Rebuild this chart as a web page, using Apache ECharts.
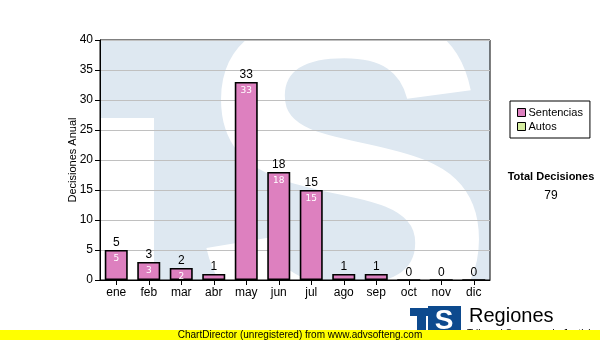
<!DOCTYPE html>
<html>
<head>
<meta charset="utf-8">
<script src="https://cdn.jsdelivr.net/npm/echarts@6/dist/echarts.min.js"></script>
<style>html,body{margin:0;padding:0;background:#fff}#c{width:600px;height:340px}</style>
</head>
<body>
<div id="c"></div>
<script>
var categories = ['ene','feb','mar','abr','may','jun','jul','ago','sep','oct','nov','dic'];
var sentencias = [5,3,2,1,33,18,15,1,1,0,0,0];
var autos = [null,null,null,null,null,null,null,null,null,null,null,null];
var yTicks = {min:0, max:40, interval:5};
var totalLabel = 'Total Decisiones';
var totalValue = '79';

var FONT = '"Liberation Sans", Arial, sans-serif';
var chart = echarts.init(document.getElementById('c'), null, {renderer:'canvas'});
var barW = 23;
chart.setOption({
  animation:false,
  backgroundColor:'#fff',
  textStyle:{fontFamily:FONT},
  grid:{left:100, right:110, top:40, bottom:60, show:true, borderColor:'#000', borderWidth:1, backgroundColor:'transparent', z:6},
  legend:{
    orient:'vertical', left:510, top:101, z:30,
    data:['Sentencias','Autos'],
    borderColor:'#000', borderWidth:1, padding:[6,7,6,7], backgroundColor:'#fff',
    itemWidth:8, itemHeight:8, itemGap:3, icon:'rect',
    itemStyle:{borderColor:'#000', borderWidth:1},
    textStyle:{fontSize:11, color:'#000', fontFamily:FONT, padding:[0,0,0,-2]},
    selectedMode:false
  },
  xAxis:{
    type:'category', data:categories, z:10,
    axisLine:{lineStyle:{color:'#000', width:1}},
    axisTick:{show:true, alignWithLabel:true, length:5, lineStyle:{color:'#000'}},
    axisLabel:{color:'#000', fontSize:12, margin:7, fontFamily:FONT},
    splitLine:{show:false}
  },
  yAxis:{
    type:'value', min:yTicks.min, max:yTicks.max, interval:yTicks.interval, z:10,
    name:'Decisiones Anual', nameLocation:'middle', nameGap:22, nameMoveOverlap:false,
    nameTextStyle:{fontSize:11, color:'#000', fontFamily:FONT},
    axisLine:{show:true, lineStyle:{color:'#000', width:1}},
    axisTick:{show:true, length:5, lineStyle:{color:'#000'}},
    axisLabel:{color:'#000', fontSize:12, margin:7, fontFamily:FONT},
    splitLine:{show:true, lineStyle:{color:'#c0c0c0', width:1}}
  },
  series:[
    {name:'Sentencias', type:'bar', data:sentencias, barWidth:barW, z:20,
     itemStyle:{color:'#dd80bf', borderColor:'#000', borderWidth:1.6},
     label:{show:true, position:'top', distance:1, color:'#000', fontSize:12, fontFamily:FONT}},
    {name:'Autos', type:'bar', data:autos, barWidth:barW, z:20,
     itemStyle:{color:'#d6eea0', borderColor:'#000', borderWidth:1}},
    {name:'_inner', type:'bar', data:sentencias, barWidth:barW, barGap:'-100%', z:21, silent:true,
     itemStyle:{color:'transparent', borderWidth:0},
     label:{show:true, position:'insideTop', distance:4, color:'#fff', fontSize:9, fontFamily:'"DejaVu Sans", sans-serif',
       formatter:function(p){return p.value>=2 ? String(p.value) : '';}}}
  ],
  graphic:[
    {type:'rect', z:1, silent:true, shape:{x:100,y:40,width:390,height:240}, style:{fill:'#dee8f1'}},
    {type:'rect', z:1, silent:true, shape:{x:100,y:118,width:54,height:162}, style:{fill:'#fff'}},
    {type:'text', z:1, silent:true, x:345, y:204, style:{text:'S', font:'bold 455px "Liberation Sans", Arial', fill:'#fff', align:'center', verticalAlign:'middle'}},
    {type:'rect', z:2, silent:true, shape:{x:0,y:280.5,width:600,height:60}, style:{fill:'#fff'}},
    {type:'rect', z:2, silent:true, shape:{x:490.5,y:0,width:110,height:340}, style:{fill:'#fff'}},
    {type:'rect', z:2, silent:true, shape:{x:0,y:0,width:600,height:39.5}, style:{fill:'#fff'}},
    {type:'text', z:30, silent:true, x:551, y:177, style:{text:totalLabel, font:'bold 11px '+FONT, fill:'#000', align:'center', verticalAlign:'middle'}},
    {type:'text', z:30, silent:true, x:551, y:196, style:{text:totalValue, font:'12px '+FONT, fill:'#000', align:'center', verticalAlign:'middle'}},
    // logo
    {type:'rect', z:30, silent:true, shape:{x:410,y:308,width:20,height:8}, style:{fill:'#0d4a8e'}},
    {type:'rect', z:30, silent:true, shape:{x:417,y:308,width:9,height:24}, style:{fill:'#0d4a8e'}},
    {type:'rect', z:30, silent:true, shape:{x:428,y:306,width:33,height:26}, style:{fill:'#0d4a8e'}},
    {type:'text', z:31, silent:true, x:444, y:321, style:{text:'S', font:'bold 28px "Liberation Sans", Arial', fill:'#fff', align:'center', verticalAlign:'middle'}},
    {type:'text', z:30, silent:true, x:469, y:316, style:{text:'Regiones', font:'20px '+FONT, fill:'#000', align:'left', verticalAlign:'middle'}},
    {type:'text', z:30, silent:true, x:467, y:334, style:{text:'Tribunal Supremo de Justicia', font:'10px '+FONT, fill:'#000', align:'left', verticalAlign:'middle'}},
    {type:'rect', z:32, silent:true, shape:{x:0,y:330,width:600,height:10}, style:{fill:'#ffff00'}},
    {type:'text', z:33, silent:true, x:300, y:335, style:{text:'ChartDirector (unregistered) from www.advsofteng.com', font:'10px '+FONT, fill:'#000', align:'center', verticalAlign:'middle'}}
  ]
});
</script>
</body>
</html>
